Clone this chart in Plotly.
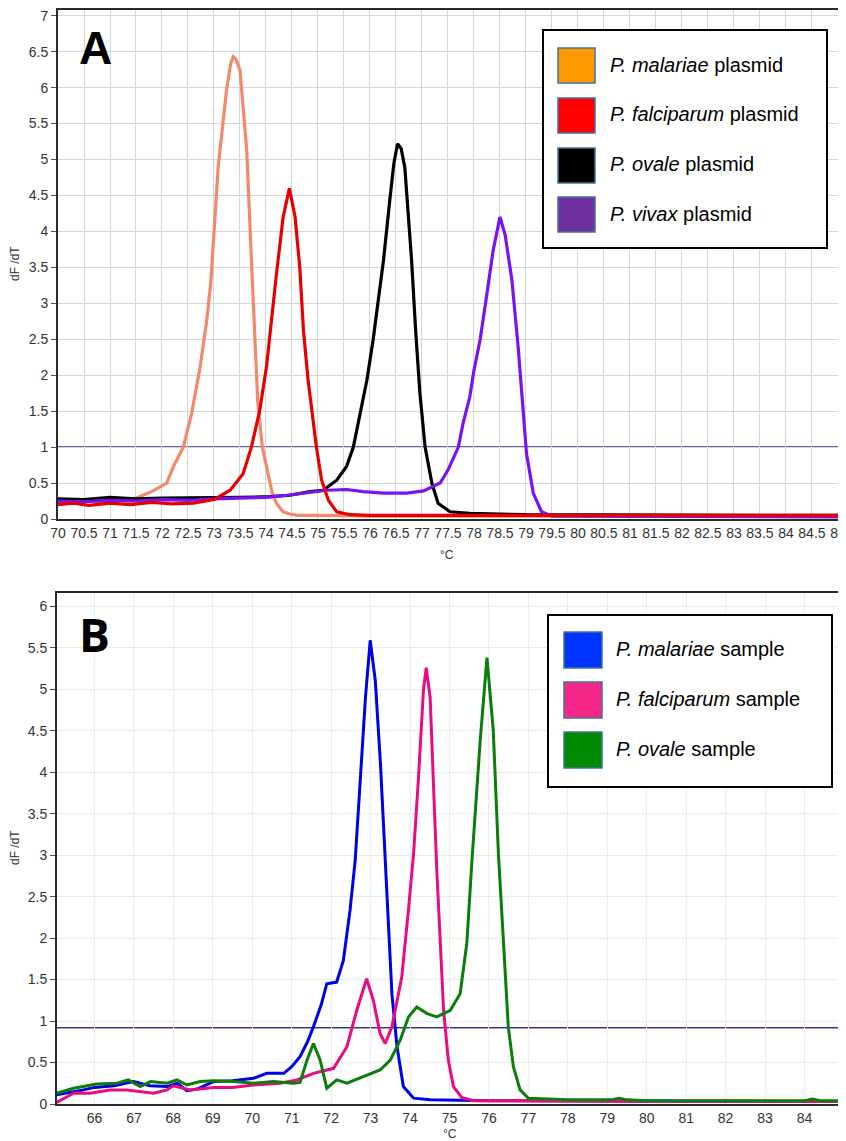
import plotly.graph_objects as go

# ---------------- Panel A data (plasmids) ----------------
T_mal_A = [70.0, 70.4, 70.8, 71.2, 71.5, 71.8, 72.09, 72.22, 72.41, 72.57, 72.73, 72.86, 72.94, 73.08,
           73.24, 73.32, 73.37, 73.42, 73.5, 73.63, 73.72, 73.78, 73.84, 73.93, 74.01, 74.12, 74.2,
           74.33, 74.46, 74.6, 75.1, 76.0, 80.0, 85.0]
v_mal_A = [0.23, 0.25, 0.24, 0.26, 0.29, 0.38, 0.5, 0.73, 1.0, 1.47, 2.1, 2.76, 3.3, 4.89,
           5.96, 6.33, 6.43, 6.4, 6.24, 5.13, 3.6, 2.5, 1.65, 1.0, 0.73, 0.36, 0.22,
           0.1, 0.07, 0.05, 0.05, 0.04, 0.04, 0.04]

T_fal_A = [70.0, 70.3, 70.6, 71.0, 71.4, 71.8, 72.2, 72.6, 73.0, 73.31, 73.56, 73.72, 73.88, 74.01,
           74.2, 74.33, 74.45, 74.56, 74.65, 74.72, 74.81, 74.91, 74.97, 75.07, 75.2, 75.36, 75.62,
           76.0, 80.0, 85.0]
v_fal_A = [0.2, 0.22, 0.19, 0.22, 0.2, 0.23, 0.21, 0.22, 0.27, 0.4, 0.63, 1.0, 1.51, 2.12,
           3.4, 4.2, 4.6, 4.2, 3.5, 2.63, 1.93, 1.33, 1.0, 0.54, 0.26, 0.1, 0.06,
           0.05, 0.05, 0.05]

T_ova_A = [70.0, 70.5, 71.0, 71.5, 72.0, 72.5, 73.0, 73.5, 74.08, 74.46, 74.85, 75.1, 75.36, 75.55,
           75.68, 75.81, 75.94, 76.06, 76.26, 76.38, 76.46, 76.53, 76.6, 76.67, 76.8, 76.88, 76.96,
           77.06, 77.19, 77.31, 77.54, 77.92, 78.3, 79.0, 85.0]
v_ova_A = [0.28, 0.27, 0.3, 0.28, 0.29, 0.29, 0.3, 0.3, 0.31, 0.33, 0.38, 0.4, 0.54, 0.73,
           1.0, 1.47, 1.93, 2.49, 3.6, 4.43, 4.95, 5.22, 5.15, 4.89, 3.6, 2.6, 1.75,
           1.0, 0.5, 0.22, 0.1, 0.08, 0.07, 0.06, 0.05]

T_viv_A = [70.0, 70.5, 71.0, 71.5, 72.0, 72.5, 73.0, 73.5, 74.0, 74.4, 74.72, 75.17, 75.55, 75.87,
           76.26, 76.71, 77.03, 77.22, 77.35, 77.5, 77.6, 77.7, 77.79, 77.92, 78.0, 78.12, 78.23,
           78.37, 78.5, 78.6, 78.73, 78.85, 78.95, 79.01, 79.14, 79.3, 79.5, 85.0]
v_viv_A = [0.25, 0.24, 0.26, 0.25, 0.27, 0.26, 0.28, 0.29, 0.3, 0.33, 0.36, 0.4, 0.41, 0.38,
           0.36, 0.36, 0.39, 0.45, 0.5, 0.68, 0.85, 1.0, 1.33, 1.7, 2.07, 2.5, 3.04,
           3.74, 4.2, 3.95, 3.32, 2.39, 1.47, 0.91, 0.36, 0.1, 0.04, 0.03]

THRESH_A = 1.0

# ---------------- Panel B data (samples) ----------------
T_mal_B = [65.04, 65.3, 65.72, 66.0, 66.5, 66.99, 67.4, 67.84, 68.1, 68.34, 68.6, 69.02, 69.5,
           70.03, 70.37, 70.8, 71.0, 71.21, 71.4, 71.55, 71.75, 71.89, 72.14, 72.31, 72.48, 72.61,
           72.74, 72.87, 72.99, 73.12, 73.25, 73.38, 73.54, 73.67, 73.83, 74.09, 74.51, 76.0, 85.0]
v_mal_B = [0.11, 0.13, 0.17, 0.2, 0.22, 0.27, 0.22, 0.21, 0.25, 0.16, 0.18, 0.27, 0.28,
           0.31, 0.37, 0.37, 0.45, 0.57, 0.75, 0.93, 1.2, 1.45, 1.47, 1.73, 2.34, 2.94,
           3.9, 4.9, 5.59, 5.1, 4.1, 2.9, 1.33, 0.69, 0.21, 0.07, 0.05, 0.04, 0.03]

T_fal_B = [65.04, 65.2, 65.47, 65.89, 66.4, 66.82, 67.16, 67.5, 67.84, 68.0, 68.43, 69.02, 69.5,
           70.03, 70.71, 71.13, 71.55, 72.06, 72.4, 72.65, 72.9, 73.07, 73.24, 73.37, 73.54, 73.79,
           73.96, 74.09, 74.21, 74.34, 74.41, 74.51, 74.59, 74.68, 74.85, 74.97, 75.1, 75.31, 75.6,
           80.0, 85.0]
v_fal_B = [0.02, 0.06, 0.13, 0.13, 0.17, 0.17, 0.15, 0.13, 0.17, 0.22, 0.17, 0.2, 0.2,
           0.23, 0.25, 0.29, 0.37, 0.43, 0.69, 1.13, 1.51, 1.25, 0.85, 0.73, 0.93, 1.53,
           2.34, 3.02, 3.9, 4.99, 5.26, 4.9, 3.9, 2.8, 1.13, 0.53, 0.21, 0.08, 0.04,
           0.03, 0.03]

T_ova_B = [65.04, 65.47, 66.06, 66.57, 66.86, 67.16, 67.42, 67.84, 68.09, 68.34, 68.68, 69.02, 69.53,
           70.03, 70.54, 71.04, 71.21, 71.39, 71.55, 71.72, 71.89, 72.14, 72.4, 72.82, 73.24, 73.5,
           73.75, 73.96, 74.17, 74.43, 74.68, 75.02, 75.27, 75.44, 75.57, 75.78, 75.95, 76.11, 76.24,
           76.37, 76.49, 76.62, 76.79, 77.0, 78.0, 79.1, 79.3, 79.5, 80.0, 84.0, 84.2, 84.4, 85.0]
v_ova_B = [0.13, 0.19, 0.24, 0.25, 0.29, 0.21, 0.27, 0.25, 0.29, 0.23, 0.27, 0.28, 0.27,
           0.25, 0.27, 0.25, 0.26, 0.53, 0.73, 0.53, 0.19, 0.29, 0.25, 0.33, 0.41, 0.53,
           0.77, 1.05, 1.17, 1.09, 1.05, 1.13, 1.33, 1.94, 2.94, 4.39, 5.38, 4.5, 3.02,
           1.94, 0.93, 0.45, 0.17, 0.07, 0.05, 0.05, 0.07, 0.05, 0.04, 0.04, 0.06, 0.04, 0.04]

THRESH_B = 0.92

LEGEND_A = [("P. malariae", "plasmid", "#FF9900"), ("P. falciparum", "plasmid", "#FF0000"),
            ("P. ovale", "plasmid", "#000000"), ("P. vivax", "plasmid", "#7030A0")]
LEGEND_B = [("P. malariae", "sample", "#0033FF"), ("P. falciparum", "sample", "#F5288A"),
            ("P. ovale", "sample", "#008A00")]

# ---------------- figure ----------------
# page body has an 8 px margin: the figure starts at (8, 8) in the window
OFF = 8
W, H = 846 - OFF, 1141 - OFF


def px(x):
    return (x - OFF) / W


def py(y):
    return 1 - (y - OFF) / H


fig = go.Figure()

series_A = [(T_mal_A, v_mal_A, "#F3886A"), (T_ova_A, v_ova_A, "#000000"),
            (T_viv_A, v_viv_A, "#7A12F2"), (T_fal_A, v_fal_A, "#E80000")]
for T, v, c in series_A:
    fig.add_trace(go.Scatter(x=T, y=v, mode="lines", line=dict(color=c, width=3.2),
                             xaxis="x", yaxis="y", showlegend=False, hoverinfo="skip"))

series_B = [(T_mal_B, v_mal_B, "#0000E6"), (T_fal_B, v_fal_B, "#E80C80"),
            (T_ova_B, v_ova_B, "#0A7D0A")]
for T, v, c in series_B:
    fig.add_trace(go.Scatter(x=T, y=v, mode="lines", line=dict(color=c, width=3),
                             xaxis="x2", yaxis="y2", showlegend=False, hoverinfo="skip"))

tickfont = dict(family="Liberation Sans, Arial, sans-serif", size=14, color="#333333")

common_axis = dict(showline=True, mirror=True, linecolor="#2a2a2a", linewidth=2,
                   zeroline=False, tickfont=tickfont, tickangle=0, fixedrange=True,
                   automargin=False)

fig.update_layout(
    width=W, height=H, margin=dict(l=0, r=0, t=0, b=0, pad=0), autosize=False,
    paper_bgcolor="white", plot_bgcolor="white",
    xaxis=dict(domain=[px(58), px(838)], range=[70, 85.001], dtick=0.5, tick0=70,
               gridcolor="#d6d6d6", gridwidth=1.2, ticks="",
               anchor="y", **common_axis),
    yaxis=dict(domain=[py(519), py(10)], range=[0, 7.08], dtick=0.5, tick0=0,
               gridcolor="#d6d6d6", gridwidth=1.2, ticks="outside", ticklen=5,
               tickcolor="#555555", anchor="x", **common_axis),
    xaxis2=dict(domain=[px(57), px(844)], range=[65.05, 85.001], dtick=1, tick0=65,
                gridcolor="#ebebeb", gridwidth=1.2, ticks="",
                anchor="y2", **common_axis),
    yaxis2=dict(domain=[py(1104), py(593)], range=[0, 6.16], dtick=0.5, tick0=0,
                gridcolor="#ebebeb", gridwidth=1.2, ticks="outside", ticklen=5,
                tickcolor="#555555", anchor="x2", **common_axis),
)

# threshold lines
fig.add_shape(type="line", xref="x domain", yref="y", x0=0, x1=1, y0=THRESH_A, y1=THRESH_A,
              line=dict(color="#2e2e99", width=1.2), layer="below")
fig.add_shape(type="line", xref="x2 domain", yref="y2", x0=0, x1=1, y0=THRESH_B, y1=THRESH_B,
              line=dict(color="#2e2e99", width=1.2), layer="below")

annotations = []
shapes = []

# panel letters with white boxes
for letter, (x0, y0, x1, y1), fam in [("A", (59, 11, 126, 88), "Liberation Sans, Arial, sans-serif"),
                                      ("B", (58, 594, 125, 675), "Open Sans, sans-serif")]:
    shapes.append(dict(type="rect", xref="paper", yref="paper", x0=px(x0), x1=px(x1),
                       y0=py(y1), y1=py(y0), fillcolor="white", line=dict(width=0), layer="above"))
    annotations.append(dict(text=f"<b>{letter}</b>", xref="paper", yref="paper",
                            x=px((x0 + x1) / 2 + 3), y=py((y0 + y1) / 2 - 1), xanchor="center",
                            yanchor="middle", showarrow=False,
                            font=dict(family=fam, size=46, color="black")))

legfont = dict(family="Liberation Sans, Arial, sans-serif", size=20, color="black")


def add_legend(items, box, sw_x, sw_tops, sw_size, text_x):
    x0, y0, x1, y1 = box
    shapes.append(dict(type="rect", xref="paper", yref="paper", x0=px(x0), x1=px(x1),
                       y0=py(y1), y1=py(y0), fillcolor="white",
                       line=dict(color="black", width=2), layer="above"))
    for (sp, kind, col), top in zip(items, sw_tops):
        shapes.append(dict(type="rect", xref="paper", yref="paper", x0=px(sw_x),
                           x1=px(sw_x + sw_size[0]), y0=py(top + sw_size[1]), y1=py(top),
                           fillcolor=col, line=dict(color="#41719C", width=1.5), layer="above"))
        annotations.append(dict(text=f"<i>{sp}</i> {kind}", xref="paper", yref="paper",
                                x=px(text_x), y=py(top + sw_size[1] / 2 - 1), xanchor="left",
                                yanchor="middle", showarrow=False, font=legfont))


add_legend(LEGEND_A, (543, 30, 827, 248), 558, [48, 98, 148, 197], (37, 35), 608)
add_legend(LEGEND_B, (548, 615, 832, 787), 564, [632, 682, 732], (38, 36), 614)

# axis titles
small = dict(family="Liberation Sans, Arial, sans-serif", size=12, color="#333333")
for yc in (264, 848):
    annotations.append(dict(text="dF /dT", xref="paper", yref="paper", x=px(15), y=py(yc),
                            textangle=-90, showarrow=False, xanchor="center", yanchor="middle",
                            font=small))
annotations.append(dict(text="°C", xref="paper", yref="paper", x=px(447), y=py(555),
                        showarrow=False, xanchor="center", yanchor="middle", font=small))
annotations.append(dict(text="°C", xref="paper", yref="paper", x=px(450), y=py(1134),
                        showarrow=False, xanchor="center", yanchor="middle", font=small))

fig.update_layout(shapes=shapes + list(fig.layout.shapes), annotations=annotations)

fig.write_html("out.html")
